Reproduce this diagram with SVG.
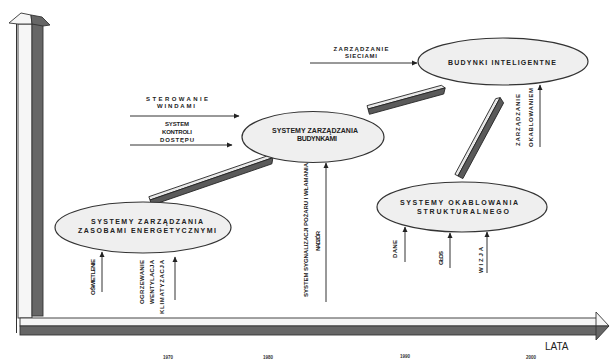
<svg xmlns="http://www.w3.org/2000/svg" width="612" height="362" viewBox="0 0 612 362">
<defs>
<marker id="ah" markerUnits="userSpaceOnUse" markerWidth="6" markerHeight="6" refX="5" refY="3" orient="auto">
<path d="M0,0.5 L5.5,3 L0,5.5 Z" fill="#222"/>
</marker>
<style>
.t{font-family:"Liberation Sans",Arial,sans-serif;font-size:6px;fill:#222;font-weight:bold}
.e{font-family:"Liberation Sans",Arial,sans-serif;font-size:7px;fill:#222;font-weight:bold}
.y{font-family:"Liberation Sans",Arial,sans-serif;font-size:4.5px;fill:#333;font-weight:bold}
.ell{fill:#efefef;stroke:#333;stroke-width:1.2}
.ln{stroke:#333;stroke-width:1;fill:none}
.lt{fill:#f6f6f6;stroke:#333;stroke-width:0.9}
.dk{fill:#666;stroke:#333;stroke-width:0.9}
.bd{fill:#5a5a5a;stroke:#222;stroke-width:0.8}
.bl{fill:#e8e8e8;stroke:#222;stroke-width:0.8}
</style>
</defs>
<rect width="612" height="362" fill="#fff"/>

<g id="axes">
<line x1="16.5" y1="24" x2="16.5" y2="333" stroke="#333" stroke-width="1"/>
<rect class="lt" x="18" y="24" width="14" height="294"/>
<rect class="dk" x="32" y="24" width="11" height="292"/>
<path class="lt" d="M9,23 L21,13 L31,15 L32,24 L18,24 Z"/>
<path class="dk" d="M31,15 L42,17 L50,25 L43,26 L32,24 Z"/>
<rect class="lt" x="20" y="318" width="577" height="8"/>
<rect class="dk" x="20" y="326" width="577" height="9"/>
<path class="lt" d="M596,312 L609,326 L596,326 Z"/>
<path class="dk" d="M596,326 L609,326 L596,340 Z"/>
<text class="y" x="168" y="359" text-anchor="middle">1970</text>
<text class="y" x="268" y="359" text-anchor="middle">1980</text>
<text class="y" x="405" y="358" text-anchor="middle">1990</text>
<text class="y" x="531" y="359" text-anchor="middle">2000</text>
<text x="545" y="350" style="font-family:'Liberation Sans',Arial,sans-serif;font-size:10px;fill:#222">LATA</text>
</g>

<g id="connectors">
<g transform="translate(150,200) rotate(-19)">
<polygon class="bl" points="0,-3.5 127,-3.5 130,0 0,0"/>
<polygon class="bd" points="0,0 130,0 127,5.5 0,5.5"/>
</g>
<g transform="translate(368,109) rotate(-15.3)">
<polygon class="bl" points="0,-3.5 77,-3.5 80,0 0,0"/>
<polygon class="bd" points="0,0 80,0 77,5.5 0,5.5"/>
</g>
<g transform="translate(458,176) rotate(-61.7)">
<polygon class="bl" points="0,-3.5 86,-3.5 89,0 0,0"/>
<polygon class="bd" points="0,0 89,0 86,5.5 0,5.5"/>
</g>
<line class="ln" x1="102" y1="292" x2="102" y2="252" marker-end="url(#ah)"/>
<line class="ln" x1="175" y1="300" x2="175" y2="257" marker-end="url(#ah)"/>
<line class="ln" x1="130" y1="116" x2="239" y2="116" marker-end="url(#ah)"/>
<line class="ln" x1="130" y1="145" x2="232" y2="145" marker-end="url(#ah)"/>
<line class="ln" x1="326" y1="302" x2="326" y2="163" marker-end="url(#ah)"/>
<line class="ln" x1="310" y1="63" x2="417" y2="63" marker-end="url(#ah)"/>
<line class="ln" x1="540" y1="147" x2="540" y2="85" marker-end="url(#ah)"/>
<line class="ln" x1="405" y1="262" x2="405" y2="227" marker-end="url(#ah)"/>
<line class="ln" x1="450" y1="268" x2="450" y2="233" marker-end="url(#ah)"/>
<line class="ln" x1="487" y1="273" x2="487" y2="232" marker-end="url(#ah)"/>
</g>

<g id="n-energia">
<ellipse class="ell" cx="143" cy="227.5" rx="88" ry="25.5"/>
<text class="e" x="147" y="224" text-anchor="middle" textLength="112" lengthAdjust="spacing">SYSTEMY ZARZĄDZANIA</text>
<text class="e" x="147" y="232.5" text-anchor="middle" textLength="138" lengthAdjust="spacing">ZASOBAMI ENERGETYCZNYMI</text>
</g>
<g id="l-energia">
<text class="t" transform="translate(95,259) rotate(-90)" text-anchor="end" textLength="36" lengthAdjust="spacing">OŚWIETLENIE</text>
<text class="t" transform="translate(144,260) rotate(-90)" text-anchor="end" textLength="44" lengthAdjust="spacing">OGRZEWANIE</text>
<text class="t" transform="translate(154,260) rotate(-90)" text-anchor="end" textLength="44" lengthAdjust="spacing">WENTYLACJA</text>
<text class="t" transform="translate(164,260) rotate(-90)" text-anchor="end" textLength="54" lengthAdjust="spacing">KLIMATYZACJA</text>
</g>

<g id="n-bms">
<ellipse class="ell" cx="313" cy="137" rx="71" ry="25.5"/>
<text class="e" x="315" y="133" text-anchor="middle" textLength="86" lengthAdjust="spacing">SYSTEMY ZARZĄDZANIA</text>
<text class="e" x="317" y="140.5" text-anchor="middle" textLength="40" lengthAdjust="spacing">BUDYNKAMI</text>
</g>
<g id="l-bms">
<text class="t" x="177" y="101" text-anchor="middle" textLength="62" lengthAdjust="spacing">STEROWANIE</text>
<text class="t" x="176" y="107.5" text-anchor="middle" textLength="38" lengthAdjust="spacing">WINDAMI</text>
<text class="t" x="177" y="126" text-anchor="middle" textLength="24" lengthAdjust="spacing">SYSTEM</text>
<text class="t" x="177" y="134" text-anchor="middle" textLength="30" lengthAdjust="spacing">KONTROLI</text>
<text class="t" x="177" y="142" text-anchor="middle" textLength="34" lengthAdjust="spacing">DOSTĘPU</text>
<text class="t" transform="translate(308,230) rotate(-90)" text-anchor="middle" textLength="134" lengthAdjust="spacing">SYSTEM SYGNALIZACJI POŻARU I WŁAMANIA</text>
<text class="t" transform="translate(320,241) rotate(-90)" text-anchor="middle" textLength="20" lengthAdjust="spacing">NADZÓR</text>
</g>

<g id="n-inteligentne">
<ellipse class="ell" cx="503" cy="61.5" rx="85" ry="23.5"/>
<text class="e" x="502" y="65" text-anchor="middle" textLength="108" lengthAdjust="spacing">BUDYNKI INTELIGENTNE</text>
</g>
<g id="l-inteligentne">
<text class="t" x="361" y="51" text-anchor="middle" textLength="55" lengthAdjust="spacing">ZARZĄDZANIE</text>
<text class="t" x="361" y="58" text-anchor="middle" textLength="32" lengthAdjust="spacing">SIECIAMI</text>
<text class="t" transform="translate(520,146) rotate(-90)" textLength="52" lengthAdjust="spacing">ZARZĄDZANIE</text>
<text class="t" transform="translate(533,147) rotate(-90)" textLength="59" lengthAdjust="spacing">OKABLOWANIEM</text>
</g>

<g id="n-okablowanie">
<ellipse class="ell" cx="462" cy="207" rx="85" ry="25"/>
<text class="e" x="459" y="205" text-anchor="middle" textLength="118" lengthAdjust="spacing">SYSTEMY OKABLOWANIA</text>
<text class="e" x="463" y="213.5" text-anchor="middle" textLength="92" lengthAdjust="spacing">STRUKTURALNEGO</text>
</g>
<g id="l-okablowanie">
<text class="t" transform="translate(397,258) rotate(-90)" textLength="18" lengthAdjust="spacing">DANE</text>
<text class="t" transform="translate(443,265) rotate(-90)" textLength="14" lengthAdjust="spacing">GŁOS</text>
<text class="t" transform="translate(483,273) rotate(-90)" textLength="26" lengthAdjust="spacing">WIZJA</text>
</g>
</svg>
